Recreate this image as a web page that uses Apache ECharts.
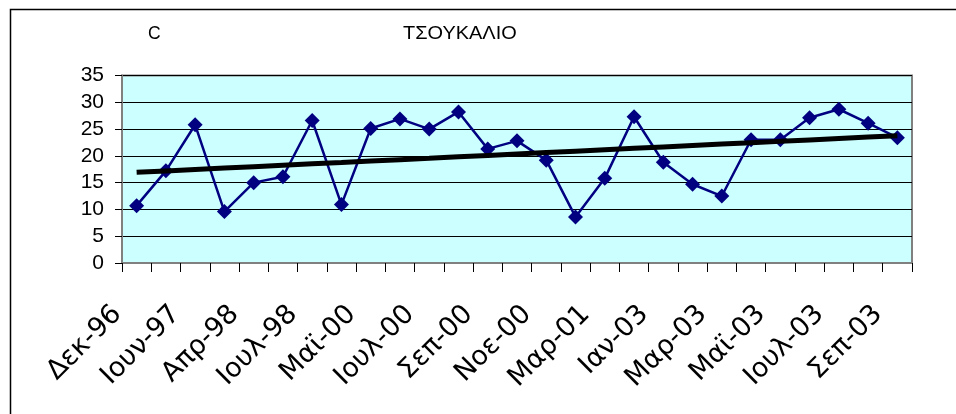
<!DOCTYPE html>
<html>
<head>
<meta charset="utf-8">
<script src="https://cdn.jsdelivr.net/npm/echarts@6/dist/echarts.min.js"></script>
<style>html,body{margin:0;padding:0;background:#fff}#c{width:956px;height:414px}</style>
</head>
<body>
<div id="c"></div>
<script>
var categories = ['Δεκ-96','Φεβ-97','Ιουν-97','Νοε-97','Απρ-98','Μαϊ-98','Ιουλ-98','Δεκ-98','Μαϊ-00','Ιουν-00','Ιουλ-00','Αυγ-00','Σεπ-00','Οκτ-00','Νοε-00','Δεκ-00','Μαρ-01','Νοε-02','Ιαν-03','Φεβ-03','Μαρ-03','Απρ-03','Μαϊ-03','Ιουν-03','Ιουλ-03','Αυγ-03','Σεπ-03'];
var values = [10.7,17.2,25.8,9.6,15.0,16.1,26.6,10.9,25.1,26.9,25.0,28.2,21.3,22.8,19.2,8.6,15.8,27.3,18.8,14.7,12.5,23.0,23.0,27.1,28.7,26.1,23.4];
var yTicks = [0,5,10,15,20,25,30,35];
var titleText = 'ΤΣΟΥΚΑΛΙΟ';
var unitText = 'C';

// linear trendline (least squares) derived from values
var n = values.length, sx = 0, sy = 0, sxy = 0, sxx = 0;
for (var i = 0; i < n; i++) { sx += i; sy += values[i]; sxy += i * values[i]; sxx += i * i; }
var slope = (n * sxy - sx * sy) / (n * sxx - sx * sx);
var icpt = (sy - slope * sx) / n;
var trend = values.map(function (v, i) { return +(icpt + slope * i).toFixed(3); });

var chart = echarts.init(document.getElementById('c'), null, {renderer: 'canvas'});
chart.setOption({
  animation: false,
  backgroundColor: '#ffffff',
  textStyle: {fontFamily: 'Liberation Sans, Arial, sans-serif'},
  grid: {left: 122, top: 75.5, right: 44, bottom: 151, show: true, backgroundColor: '#CCFFFF', borderColor: '#808080', borderWidth: 2, containLabel: false},
  graphic: [
    {type: 'rect', shape: {x: 10.5, y: 9.5, width: 980, height: 440}, style: {fill: 'none', stroke: '#000', lineWidth: 1.5}, silent: true},
    {type: 'text', x: 148, y: 25, style: {text: unitText, fontSize: 17.5, fill: '#000', fontFamily: 'Liberation Sans, Arial, sans-serif'}},
    {type: 'text', x: 403, y: 25, scaleX: 1.14, style: {text: titleText, fontSize: 17.5, fill: '#000', fontFamily: 'Liberation Sans, Arial, sans-serif'}}
  ],
  xAxis: {
    type: 'category',
    data: categories,
    boundaryGap: true,
    axisLine: {show: true, lineStyle: {color: '#808080', width: 2}},
    axisTick: {show: true, interval: 0, length: 9, lineStyle: {color: '#000', width: 1}},
    axisLabel: {interval: 1, rotate: 45, fontSize: 27, fontFamily: 'DejaVu Sans', color: '#000', margin: 28, padding: [0, 27, 0, 0]},
    splitLine: {show: false}
  },
  yAxis: {
    type: 'value',
    min: yTicks[0], max: yTicks[yTicks.length - 1], interval: 5,
    axisLine: {show: true, lineStyle: {color: '#808080', width: 2}},
    axisTick: {show: true, length: 7, lineStyle: {color: '#000'}},
    axisLabel: {fontSize: 21, color: '#000', margin: 18},
    splitLine: {show: true, lineStyle: {color: '#000', width: 1}}
  },
  series: [
    {
      type: 'line', data: values,
      symbol: 'diamond', symbolSize: 15,
      lineStyle: {color: '#000080', width: 2.5},
      itemStyle: {color: '#000080'},
      z: 3
    },
    {
      type: 'line', data: trend,
      symbol: 'none',
      lineStyle: {color: '#000', width: 5},
      z: 4
    }
  ]
});
</script>
</body>
</html>
